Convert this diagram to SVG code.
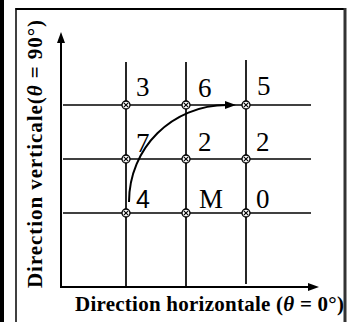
<svg xmlns="http://www.w3.org/2000/svg" width="352" height="322" viewBox="0 0 352 322">
<style>
.grid{stroke:#000;stroke-width:1.7;fill:none}
.axis{stroke:#000;stroke-width:2;fill:none}
.node circle{fill:#fff;stroke:#000;stroke-width:1.3}
.node path{stroke:#000;stroke-width:1.1}
.lbl{font-family:"Liberation Serif",serif;font-size:27px;fill:#000}
.lbl4{font-family:"Liberation Sans",sans-serif;font-size:25px;fill:#000}
.ax{font-family:"Liberation Serif",serif;font-size:21px;font-weight:bold;fill:#000}
</style>
<defs>
<marker id="arr" markerUnits="userSpaceOnUse" markerWidth="12" markerHeight="9" refX="2" refY="4" orient="auto">
<path d="M0,0 L11,4 L0,8 z" fill="#000"/>
</marker>
</defs>
<rect width="352" height="322" fill="#fff"/>
<g id="frame">
<rect x="0" y="0" width="4" height="322" fill="#000"/>
<line x1="16" y1="8" x2="16" y2="322" stroke="#000" stroke-width="1.5"/>
<line x1="15.5" y1="9" x2="346" y2="9" stroke="#000" stroke-width="2"/>
<line x1="345" y1="8" x2="345" y2="322" stroke="#333" stroke-width="3"/>
</g>
<g id="connectors">
<line class="axis" x1="61" y1="288" x2="61" y2="41" marker-end="url(#arr)"/>
<line class="axis" x1="60" y1="287" x2="310" y2="287" marker-end="url(#arr)"/>
<line class="grid" x1="63" y1="105" x2="311" y2="105"/>
<line class="grid" x1="63" y1="159" x2="311" y2="159"/>
<line class="grid" x1="63" y1="213" x2="311" y2="213"/>
<line class="grid" x1="126" y1="62" x2="126" y2="287"/>
<line class="grid" x1="186" y1="62" x2="186" y2="287"/>
<line class="grid" x1="246" y1="60" x2="246" y2="284"/>
<path class="axis" d="M129,202 C129,148 172,105 227,105" marker-end="url(#arr)"/>
</g>
<g id="n3" class="node"><circle cx="126" cy="105" r="4"/><path d="M123.8,102.8 L128.2,107.2 M128.2,102.8 L123.8,107.2"/></g>
<g id="n6" class="node"><circle cx="186" cy="105" r="4"/><path d="M183.8,102.8 L188.2,107.2 M188.2,102.8 L183.8,107.2"/></g>
<g id="n5" class="node"><circle cx="246" cy="105" r="4"/><path d="M243.8,102.8 L248.2,107.2 M248.2,102.8 L243.8,107.2"/></g>
<g id="n7" class="node"><circle cx="126" cy="159" r="4"/><path d="M123.8,156.8 L128.2,161.2 M128.2,156.8 L123.8,161.2"/></g>
<g id="n2a" class="node"><circle cx="186" cy="159" r="4"/><path d="M183.8,156.8 L188.2,161.2 M188.2,156.8 L183.8,161.2"/></g>
<g id="n2b" class="node"><circle cx="246" cy="159" r="4"/><path d="M243.8,156.8 L248.2,161.2 M248.2,156.8 L243.8,161.2"/></g>
<g id="n4" class="node"><circle cx="126" cy="213" r="4"/><path d="M123.8,210.8 L128.2,215.2 M128.2,210.8 L123.8,215.2"/></g>
<g id="nM" class="node"><circle cx="186" cy="213" r="4"/><path d="M183.8,210.8 L188.2,215.2 M188.2,210.8 L183.8,215.2"/></g>
<g id="n0" class="node"><circle cx="246" cy="213" r="4"/><path d="M243.8,210.8 L248.2,215.2 M248.2,210.8 L243.8,215.2"/></g>
<g id="labels">
<text class="lbl" x="136" y="96">3</text>
<text class="lbl" x="198" y="97">6</text>
<text class="lbl" x="257" y="95">5</text>
<text class="lbl" x="136" y="152">7</text>
<text class="lbl" x="198" y="151">2</text>
<text class="lbl" x="256" y="151">2</text>
<text class="lbl4" x="136" y="208">4</text>
<text class="lbl" x="199" y="208">M</text>
<text class="lbl" x="256" y="208">0</text>
</g>
<g id="axis-labels">
<text class="ax" transform="translate(42,288) rotate(-90)" textLength="268" lengthAdjust="spacing">Direction verticale(<tspan font-style="italic">θ</tspan> = 90°)</text>
<text class="ax" x="75" y="311" textLength="269" lengthAdjust="spacing">Direction horizontale (<tspan font-style="italic">θ</tspan> = 0°)</text>
</g>
</svg>
